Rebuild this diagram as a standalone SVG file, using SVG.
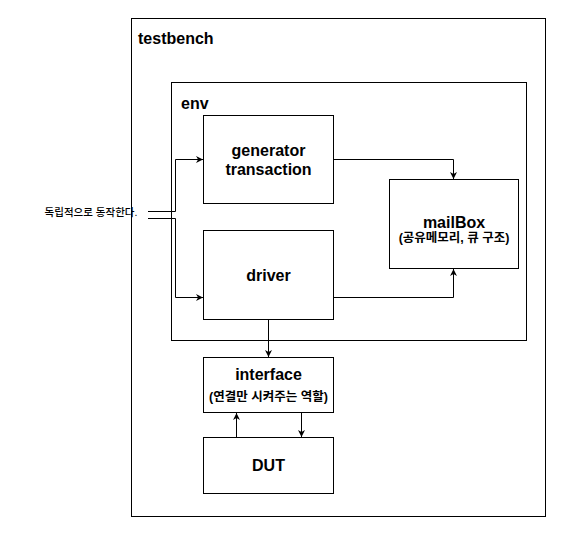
<svg xmlns="http://www.w3.org/2000/svg" width="562" height="534" viewBox="0 0 562 534">
<style>
.box{fill:#fff;stroke:#000;stroke-width:1}
.t{font-family:"Liberation Sans",Arial,"Noto Sans CJK KR",sans-serif;font-weight:bold;fill:#000}
.big{font-size:16px}
.sm{font-size:12.5px}
.c{text-anchor:middle}
.ln{fill:none;stroke:#000;stroke-width:1}
</style>
<defs>
<marker id="ar" viewBox="0 0 10 10" refX="10" refY="5" markerWidth="7" markerHeight="7" orient="auto" markerUnits="userSpaceOnUse">
<path d="M0,0 L10,5 L0,10 L3,5 Z" fill="#000"/>
</marker>
</defs>
<rect width="562" height="534" fill="#fff"/>
<g id="testbench">
<rect class="box" x="131.5" y="18.5" width="414" height="498"/>
<text class="t big" x="138" y="44">testbench</text>
</g>
<g id="env">
<rect class="box" x="171.5" y="82.5" width="355" height="258"/>
<text class="t big" x="181" y="109">env</text>
</g>
<g id="generator">
<rect class="box" x="203.5" y="115.5" width="130" height="88"/>
<text class="t big c" x="268.5" y="155.5">generator</text>
<text class="t big c" x="268.5" y="175">transaction</text>
</g>
<g id="driver">
<rect class="box" x="203.5" y="230.5" width="130" height="89"/>
<text class="t big c" x="268.5" y="280.5">driver</text>
</g>
<g id="mailbox">
<rect class="box" x="389.5" y="179.5" width="129" height="89"/>
<text class="t big c" x="454" y="227.5">mailBox</text>
<text class="t sm c" x="454" y="242">(공유메모리, 큐 구조)</text>
</g>
<g id="interface">
<rect class="box" x="203.5" y="357.5" width="130" height="55"/>
<text class="t big c" x="268.5" y="379.5">interface</text>
<text class="t sm c" x="268.5" y="401">(연결만 시켜주는 역할)</text>
</g>
<g id="dut">
<rect class="box" x="203.5" y="437.5" width="130" height="56"/>
<text class="t big c" x="268.5" y="471">DUT</text>
</g>
<g id="note">
<text x="91" y="215.5" text-anchor="middle" font-family="'Liberation Sans',Arial,'Noto Sans CJK KR',sans-serif" font-size="10.5" font-weight="500" fill="#000">독립적으로 동작한다.</text>
</g>
<g id="connectors">
<path class="ln" d="M148,211.5 H175.5 V159.5 H203" marker-end="url(#ar)"/>
<path class="ln" d="M148,218.5 H175.5 V297.5 H203" marker-end="url(#ar)"/>
<path class="ln" d="M333.5,159.5 H453.5 V179" marker-end="url(#ar)"/>
<path class="ln" d="M333.5,297.5 H453.5 V269" marker-end="url(#ar)"/>
<path class="ln" d="M268.5,319.5 V357" marker-end="url(#ar)"/>
<path class="ln" d="M301.5,412.5 V437" marker-end="url(#ar)"/>
<path class="ln" d="M236.5,437.5 V413" marker-end="url(#ar)"/>
</g>
</svg>
